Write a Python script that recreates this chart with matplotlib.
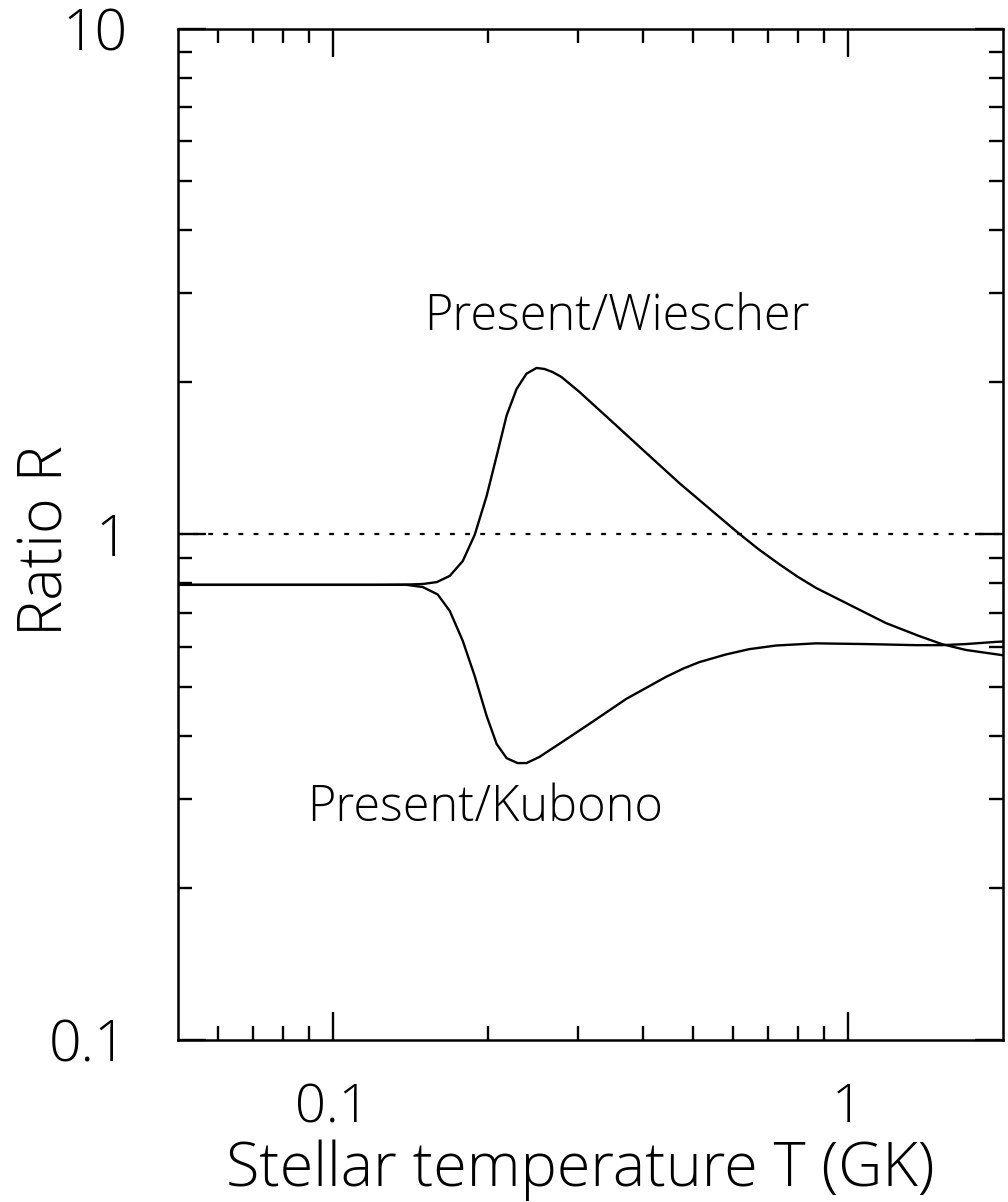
import matplotlib
matplotlib.use("Agg")
import matplotlib.pyplot as plt
from matplotlib import font_manager, ticker

# ------------------------------------------------------------
# data (T in GK, ratio R)
# ------------------------------------------------------------
wiescher_T = [0.05, 0.10, 0.1236, 0.1393, 0.1497, 0.1594, 0.1689, 0.1790, 0.1888,
              0.1991, 0.2083, 0.2178, 0.2277, 0.2380, 0.2489, 0.2579, 0.2674, 0.2783,
              0.3016, 0.3494, 0.4068, 0.4713, 0.5461, 0.6105, 0.6700, 0.7362, 0.8000,
              0.8685, 1.0198, 1.1870, 1.3755, 1.5235, 1.6963, 2.0]
wiescher_R = [0.795, 0.795, 0.795, 0.796, 0.798, 0.805, 0.828, 0.886, 0.998,
              1.19, 1.43, 1.72, 1.94, 2.08, 2.135, 2.125, 2.096, 2.049,
              1.914, 1.670, 1.449, 1.264, 1.113, 1.011, 0.937, 0.874, 0.825,
              0.784, 0.722, 0.668, 0.630, 0.607, 0.591, 0.577]

kubono_T = [0.05, 0.10, 0.1393, 0.1497, 0.1600, 0.1689, 0.1790, 0.1888, 0.1991,
            0.2083, 0.2178, 0.2287, 0.2380, 0.2522, 0.2796, 0.3153, 0.3720, 0.4446,
            0.4800, 0.5153, 0.5809, 0.6438, 0.7264, 0.8685, 1.0857, 1.3572, 1.5235,
            1.6963, 1.9393, 2.0]
kubono_R = [0.795, 0.795, 0.795, 0.787, 0.761, 0.706, 0.616, 0.525, 0.438,
            0.385, 0.361, 0.353, 0.353, 0.363, 0.389, 0.422, 0.473, 0.523,
            0.543, 0.559, 0.579, 0.593, 0.603, 0.609, 0.607, 0.604, 0.604,
            0.607, 0.613, 0.614]

reference_R = 1.0

x_major = [0.1, 1]
x_major_labels = ["0.1", "1"]
x_minor = [0.06, 0.07, 0.08, 0.09, 0.2, 0.3, 0.4, 0.5, 0.6, 0.7, 0.8, 0.9]
y_major = [0.1, 1, 10]
y_major_labels = ["0.1", "1", "10"]
y_minor = [0.2, 0.3, 0.4, 0.5, 0.6, 0.7, 0.8, 0.9, 2, 3, 4, 5, 6, 7, 8, 9]

labels = ["Present/Wiescher", "Present/Kubono"]
label_pos = [(0.357, 2.69), (0.198, 0.288)]


# thin strokes like the original plotting font: take a light face if one is installed
def pick_font():
    for family in ['Open Sans', 'Roboto', 'Noto Sans', 'Lato', 'Inter']:
        for f in font_manager.fontManager.ttflist:
            if f.name == family and f.style == 'normal' and f.weight in (300, 'light'):
                return family, 300
    return 'DejaVu Sans', 'normal'


font_family, font_weight = pick_font()
plt.rcParams['font.family'] = [font_family, 'DejaVu Sans']
plt.rcParams['font.weight'] = font_weight
plt.rcParams['axes.labelweight'] = font_weight

# ------------------------------------------------------------
# figure
# ------------------------------------------------------------
fig = plt.figure(figsize=(10.08, 12.02), dpi=100)
ax = fig.add_axes([0.1761, 0.1348, 0.8185, 0.8411])

ax.plot(wiescher_T, wiescher_R, color='black', lw=1.7)
ax.plot(kubono_T, kubono_R, color='black', lw=1.7)
ax.axhline(reference_R, color='black', lw=1.6, linestyle=(0, (2.2, 4.6)))

for text, (tx, ty) in zip(labels, label_pos):
    ax.text(tx, ty, text, fontsize=35, ha='center', va='center')

ax.set_xscale('log')
ax.set_yscale('log')
ax.set_xlim(0.05, 2.0)
ax.set_ylim(0.1, 10)

ax.xaxis.set_major_locator(ticker.FixedLocator(x_major))
ax.xaxis.set_major_formatter(ticker.FixedFormatter(x_major_labels))
ax.xaxis.set_minor_locator(ticker.FixedLocator(x_minor))
ax.xaxis.set_minor_formatter(ticker.NullFormatter())
ax.yaxis.set_major_locator(ticker.FixedLocator(y_major))
ax.yaxis.set_major_formatter(ticker.FixedFormatter(y_major_labels))
ax.yaxis.set_minor_locator(ticker.FixedLocator(y_minor))
ax.yaxis.set_minor_formatter(ticker.NullFormatter())

ax.tick_params(which='both', direction='in', top=True, right=True, width=1.7, color='black')
ax.tick_params(which='major', length=20)
ax.tick_params(which='minor', length=10)
ax.tick_params(axis='x', which='major', labelsize=39, pad=30)
ax.tick_params(axis='y', which='major', labelsize=41, pad=36)

for spine in ax.spines.values():
    spine.set_linewidth(1.8)

ax.set_xlabel('Stellar temperature T (GK)', fontsize=44)
ax.xaxis.label.set_va('center')
ax.xaxis.set_label_coords(0.488, -0.1286)
ax.set_ylabel('Ratio R', fontsize=44)
ax.yaxis.label.set_va('center')
ax.yaxis.set_label_coords(-0.159, 0.4936)

fig.savefig('out.png', dpi=100)
